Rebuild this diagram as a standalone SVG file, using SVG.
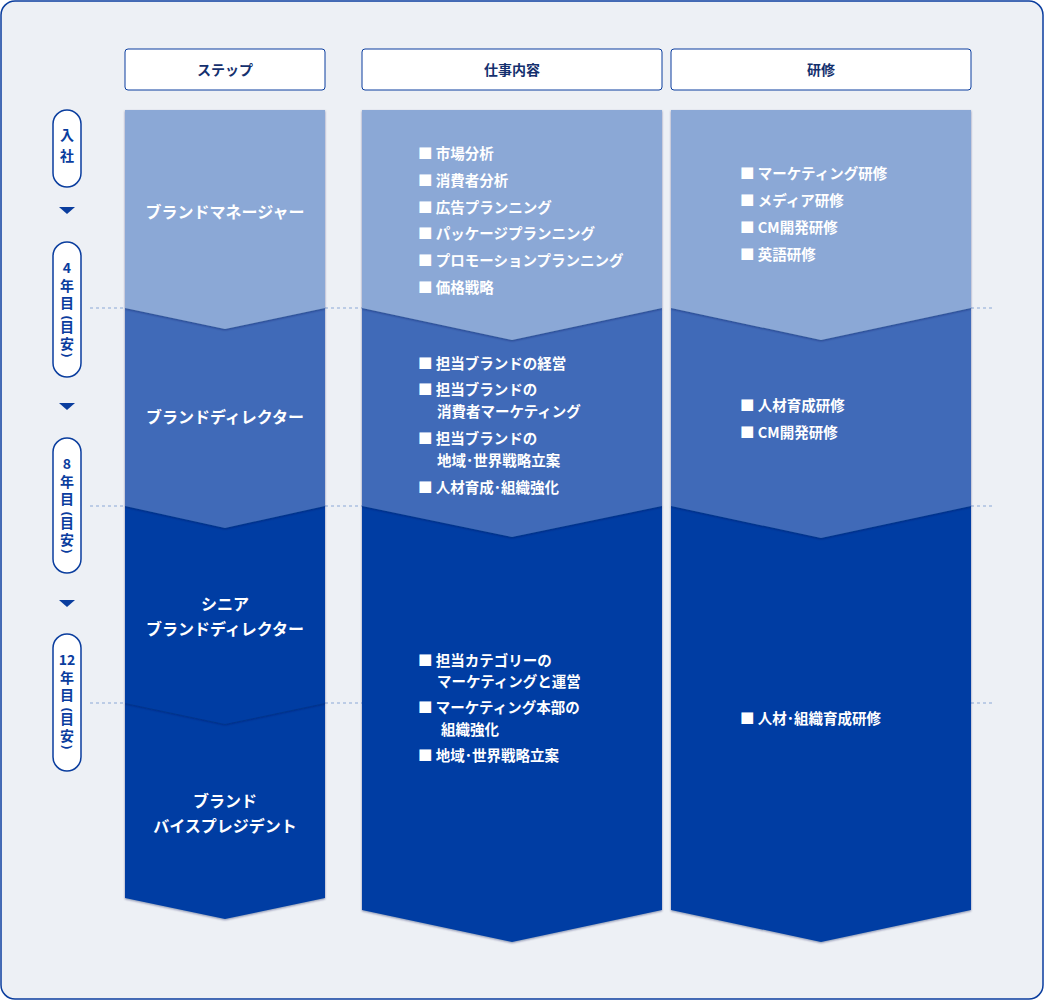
<svg xmlns="http://www.w3.org/2000/svg" width="1044" height="1000" viewBox="0 0 1044 1000">
<defs>
<style>
text{font-family:"Noto Sans CJK JP","Noto Sans",sans-serif;font-weight:bold}
.hd{fill:#fff;stroke:#0A3D9E;stroke-width:1}
.ht{font-size:14px;fill:#14306E;text-anchor:middle}
.pill{fill:#fff;stroke:#0A3D9E;stroke-width:1.5}
.pt{font-size:14px;fill:#0A3D9E;text-anchor:middle}
.pp{font-size:13px;fill:#0A3D9E;text-anchor:middle;font-family:"Noto Sans","DejaVu Sans",sans-serif}
.c1{fill:#8BA8D6}.c2{fill:#3F6BB8}.c3{fill:#003DA3}
.w{font-size:14.5px;fill:#fff}
.wm{font-size:16px;fill:#fff;text-anchor:middle}
.dot{stroke:#8BA8D6;stroke-width:1;stroke-dasharray:3 3}
</style>
<filter id="sh" x="-5%" y="-5%" width="110%" height="115%"><feDropShadow dx="0" dy="1" stdDeviation="1.2" flood-color="#001a50" flood-opacity="0.45"/></filter>
</defs>
<rect x="1" y="1" width="1042" height="998" rx="14" fill="#EDF0F5" stroke="#0A3D9E" stroke-width="1.5"/>
<g id="connectors">
<line class="dot" x1="90" y1="308" x2="125" y2="308"/><line class="dot" x1="325" y1="308" x2="362" y2="308"/><line class="dot" x1="971" y1="308" x2="994" y2="308"/>
<line class="dot" x1="90" y1="506" x2="125" y2="506"/><line class="dot" x1="325" y1="506" x2="362" y2="506"/><line class="dot" x1="971" y1="506" x2="994" y2="506"/>
<line class="dot" x1="90" y1="703" x2="125" y2="703"/><line class="dot" x1="325" y1="703" x2="362" y2="703"/><line class="dot" x1="971" y1="703" x2="994" y2="703"/>
<path d="M59 207h16l-8 7z" fill="#0A3D9E"/><path d="M59 403h16l-8 7z" fill="#0A3D9E"/><path d="M59 600h16l-8 7z" fill="#0A3D9E"/>
</g>
<g id="headers">
<rect class="hd" x="125" y="49" width="200" height="41" rx="3"/><text class="ht" x="225" y="75">ステップ</text>
<rect class="hd" x="362" y="49" width="300" height="41" rx="3"/><text class="ht" x="512" y="75">仕事内容</text>
<rect class="hd" x="671" y="49" width="300" height="41" rx="3"/><text class="ht" x="821" y="75">研修</text>
</g>
<g id="pills">
<rect class="pill" x="53" y="110" width="28" height="77" rx="14"/>
<text class="pt" x="67" y="140">入</text><text class="pt" x="67" y="161">社</text>
<rect class="pill" x="53" y="242" width="28" height="135" rx="14"/>
<text class="pt" x="67" y="273" font-size="12">4</text><text class="pt" x="67" y="291">年</text><text class="pt" x="67" y="308">目</text><text class="pp" transform="translate(63 318) rotate(90)">(</text><text class="pt" x="67" y="332">目</text><text class="pt" x="67" y="349">安</text><text class="pp" transform="translate(63 355) rotate(90)">)</text>
<rect class="pill" x="53" y="438" width="28" height="135" rx="14"/>
<text class="pt" x="67" y="469" font-size="12">8</text><text class="pt" x="67" y="487">年</text><text class="pt" x="67" y="504">目</text><text class="pp" transform="translate(63 514) rotate(90)">(</text><text class="pt" x="67" y="528">目</text><text class="pt" x="67" y="545">安</text><text class="pp" transform="translate(63 551) rotate(90)">)</text>
<rect class="pill" x="53" y="634" width="28" height="137" rx="14"/>
<text class="pt" x="67" y="665" font-size="12">12</text><text class="pt" x="67" y="683">年</text><text class="pt" x="67" y="700">目</text><text class="pp" transform="translate(63 710) rotate(90)">(</text><text class="pt" x="67" y="724">目</text><text class="pt" x="67" y="741">安</text><text class="pp" transform="translate(63 747) rotate(90)">)</text>
</g>
<g id="step">
<path class="c3" filter="url(#sh)" d="M125 703H325V898L225 919L125 898Z"/>
<path class="c3" filter="url(#sh)" d="M125 506H325V703L225 724L125 703Z"/>
<path class="c2" filter="url(#sh)" d="M125 308H325V506L225 528L125 506Z"/>
<path class="c1" filter="url(#sh)" d="M125 110H325V308L225 329L125 308Z"/>
<text class="wm" x="225" y="218">ブランドマネージャー</text>
<text class="wm" x="225" y="423">ブランドディレクター</text>
<text class="wm" x="225" y="610">シニア</text><text class="wm" x="225" y="635">ブランドディレクター</text>
<text class="wm" x="225" y="807">ブランド</text><text class="wm" x="225" y="832">バイスプレジデント</text>
</g>
<g id="work">
<path class="c3" filter="url(#sh)" d="M362 506H662V910L512 942L362 910Z"/>
<path class="c2" filter="url(#sh)" d="M362 308H662V506L512 537L362 506Z"/>
<path class="c1" filter="url(#sh)" d="M362 110H662V308L512 340L362 308Z"/>
<g class="w">
<text x="418" y="159">■ 市場分析</text><text x="418" y="186">■ 消費者分析</text><text x="418" y="213">■ 広告プランニング</text><text x="418" y="239">■ パッケージプランニング</text><text x="418" y="266">■ プロモーションプランニング</text><text x="418" y="293">■ 価格戦略</text>
<text x="418" y="369">■ 担当ブランドの経営</text><text x="418" y="395">■ 担当ブランドの</text><text x="437" y="417">消費者マーケティング</text><text x="418" y="444">■ 担当ブランドの</text><text x="437" y="466">地域･世界戦略立案</text><text x="418" y="493">■ 人材育成･組織強化</text>
<text x="418" y="666">■ 担当カテゴリーの</text><text x="437" y="687">マーケティングと運営</text><text x="418" y="713">■ マーケティング本部の</text><text x="441" y="735">組織強化</text><text x="418" y="761">■ 地域･世界戦略立案</text>
</g>
</g>
<g id="training">
<path class="c3" filter="url(#sh)" d="M671 506H971V910L821 942L671 910Z"/>
<path class="c2" filter="url(#sh)" d="M671 308H971V506L821 538L671 506Z"/>
<path class="c1" filter="url(#sh)" d="M671 110H971V308L821 340L671 308Z"/>
<g class="w">
<text x="740" y="179">■ マーケティング研修</text><text x="740" y="206">■ メディア研修</text><text x="740" y="233">■ CM開発研修</text><text x="740" y="260">■ 英語研修</text>
<text x="740" y="411">■ 人材育成研修</text><text x="740" y="438">■ CM開発研修</text>
<text x="740" y="724">■ 人材･組織育成研修</text>
</g>
</g>
</svg>
